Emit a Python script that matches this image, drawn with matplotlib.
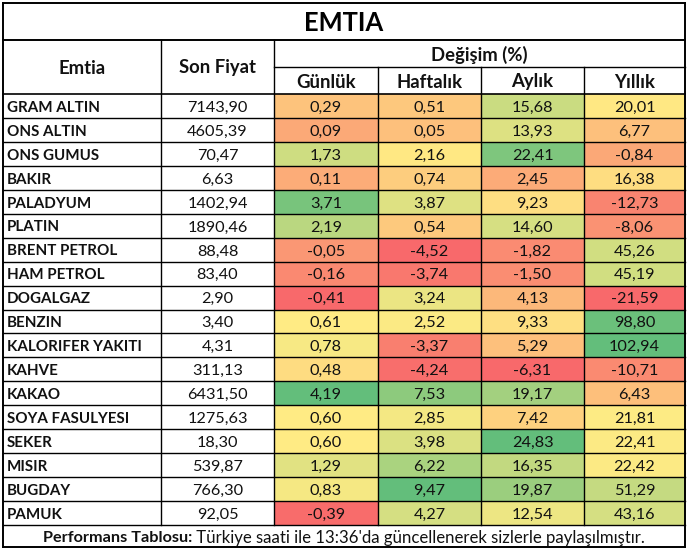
import matplotlib
matplotlib.use("Agg")
import matplotlib.pyplot as plt
from matplotlib.patches import Rectangle
import numpy as np

plt.rcParams['font.family'] = ['Lato', 'DejaVu Sans']

title = "EMTIA"
col_emtia = "Emtia"
col_price = "Son Fiyat"
group_header = "Değişim (%)"
period_headers = ["Günlük", "Haftalık", "Aylık", "Yıllık"]

names = ["GRAM ALTIN", "ONS ALTIN", "ONS GUMUS", "BAKIR", "PALADYUM", "PLATIN",
         "BRENT PETROL", "HAM PETROL", "DOGALGAZ", "BENZIN", "KALORIFER YAKITI",
         "KAHVE", "KAKAO", "SOYA FASULYESI", "SEKER", "MISIR", "BUGDAY", "PAMUK"]
prices = [7143.90, 4605.39, 70.47, 6.63, 1402.94, 1890.46, 88.48, 83.40, 2.90,
          3.40, 4.31, 311.13, 6431.50, 1275.63, 18.30, 539.87, 766.30, 92.05]
daily = [0.29, 0.09, 1.73, 0.11, 3.71, 2.19, -0.05, -0.16, -0.41, 0.61, 0.78,
         0.48, 4.19, 0.60, 0.60, 1.29, 0.83, -0.39]
weekly = [0.51, 0.05, 2.16, 0.74, 3.87, 0.54, -4.52, -3.74, 3.24, 2.52, -3.37,
          -4.24, 7.53, 2.85, 3.98, 6.22, 9.47, 4.27]
monthly = [15.68, 13.93, 22.41, 2.45, 9.23, 14.60, -1.82, -1.50, 4.13, 9.33,
           5.29, -6.31, 19.17, 7.42, 24.83, 16.35, 19.87, 12.54]
yearly = [20.01, 6.77, -0.84, 16.38, -12.73, -8.06, 45.26, 45.19, -21.59, 98.80,
          102.94, -10.71, 6.43, 21.81, 22.41, 22.42, 51.29, 43.16]
footer_bold = "Performans Tablosu:"
footer_text = " Türkiye saati ile 13:36'da güncellenerek sizlerle paylaşılmıştır."

changes = [daily, weekly, monthly, yearly]

def fmt(v):
    return f"{v:.2f}".replace(".", ",")

RED = np.array([0xF8, 0x69, 0x6B]) / 255
YEL = np.array([0xFF, 0xEB, 0x84]) / 255
GRN = np.array([0x63, 0xBE, 0x7B]) / 255

def scale_colors(vals):
    a = np.array(vals, dtype=float)
    lo, hi, mid = a.min(), a.max(), np.percentile(a, 50)
    out = []
    for v in a:
        if v <= mid:
            t = 0 if mid == lo else (v - lo) / (mid - lo)
            c = RED + (YEL - RED) * t
        else:
            t = (v - mid) / (hi - mid)
            c = YEL + (GRN - YEL) * t
        out.append(c)
    return out

W, H = 688, 551
fig = plt.figure(figsize=(W / 100, H / 100), dpi=100)
ax = fig.add_axes([0, 0, 1, 1])
ax.set_xlim(0, W)
ax.set_ylim(H, 0)
ax.axis("off")

# layout (pixels)
xs = [3, 161, 274, 378, 481, 584, 685]
y_title0, y_title1 = 3, 40
y_h1 = 67
y_h2 = 94
row_h = (525 - 94) / len(names)
y_data_end = y_h2 + row_h * len(names)
y_bottom = 547

txt_color = "#111111"
lw = 1.0

# colored cells
for j, col in enumerate(changes):
    cols = scale_colors(col)
    for i, c in enumerate(cols):
        ax.add_patch(Rectangle((xs[2 + j], y_h2 + i * row_h), xs[3 + j] - xs[2 + j], row_h,
                               facecolor=c, edgecolor="none", zorder=1))

def hline(y, x0, x1, w=lw):
    ax.plot([x0, x1], [y, y], color="black", lw=w, zorder=3, solid_capstyle="projecting")

def vline(x, y0, y1, w=lw):
    ax.plot([x, x], [y0, y1], color="black", lw=w, zorder=3, solid_capstyle="projecting")

# outer border
hline(y_title0, xs[0], xs[-1], 1.4)
hline(y_bottom, xs[0], xs[-1], 1.4)
vline(xs[0], y_title0, y_bottom, 1.4)
vline(xs[-1], y_title0, y_bottom, 1.4)
hline(y_title1, xs[0], xs[-1], 1.4)
hline(y_h1, xs[2], xs[-1])
hline(y_h2, xs[0], xs[-1], 1.2)
for i in range(1, len(names) + 1):
    hline(y_h2 + i * row_h, xs[0], xs[-1])
for k, x in enumerate(xs[1:-1], start=1):
    y0 = y_h1 if k >= 3 else y_title1
    vline(x, y0, y_data_end)

# title
ax.text((xs[0] + xs[-1]) / 2, (y_title0 + y_title1) / 2 + 1.5, title, ha="center", va="center",
        fontsize=18.4, fontweight="bold", color="black")
# headers
hdr_fs = 13.3
ax.text((xs[0] + xs[1]) / 2, (y_title1 + y_h2) / 2 + 1, col_emtia, ha="center", va="center",
        fontsize=hdr_fs, fontweight="bold", color=txt_color)
ax.text((xs[1] + xs[2]) / 2, (y_title1 + y_h2) / 2 + 1, col_price, ha="center", va="center",
        fontsize=hdr_fs, fontweight="bold", color=txt_color)
ax.text((xs[2] + xs[-1]) / 2, (y_title1 + y_h1) / 2 + 1.5, group_header, ha="center", va="center",
        fontsize=hdr_fs, fontweight="bold", color=txt_color)
for j, h in enumerate(period_headers):
    ax.text((xs[2 + j] + xs[3 + j]) / 2, (y_h1 + y_h2) / 2 + 1.5, h, ha="center", va="center",
            fontsize=hdr_fs, fontweight="bold", color=txt_color)

# data
name_fs = 10.9
num_fs = 11.7
for i, name in enumerate(names):
    yc = y_h2 + (i + 0.5) * row_h + 1.8
    ax.text(xs[0] + 4, yc, name, ha="left", va="center", fontsize=name_fs,
            fontweight="bold", color=txt_color)
    ax.text((xs[1] + xs[2]) / 2, yc, fmt(prices[i]), ha="center", va="center",
            fontsize=num_fs, color=txt_color)
    for j, col in enumerate(changes):
        ax.text((xs[2 + j] + xs[3 + j]) / 2, yc, fmt(col[i]), ha="center", va="center",
                fontsize=num_fs, color=txt_color)

# footer
yf = (y_data_end + y_bottom) / 2 + 1.5
fig.canvas.draw()
r = fig.canvas.get_renderer()
t1 = ax.text(0, yf, footer_bold, ha="left", va="center", fontsize=11.7,
             fontweight="bold", color=txt_color)
t2 = ax.text(0, yf, footer_text, ha="left", va="center", fontsize=12.1, color=txt_color)
w1 = t1.get_window_extent(r).width
w2 = t2.get_window_extent(r).width
x0 = (xs[0] + xs[-1]) / 2 - (w1 + w2) / 2
t1.set_x(x0)
t2.set_x(x0 + w1)

fig.savefig("out.png", dpi=100)
